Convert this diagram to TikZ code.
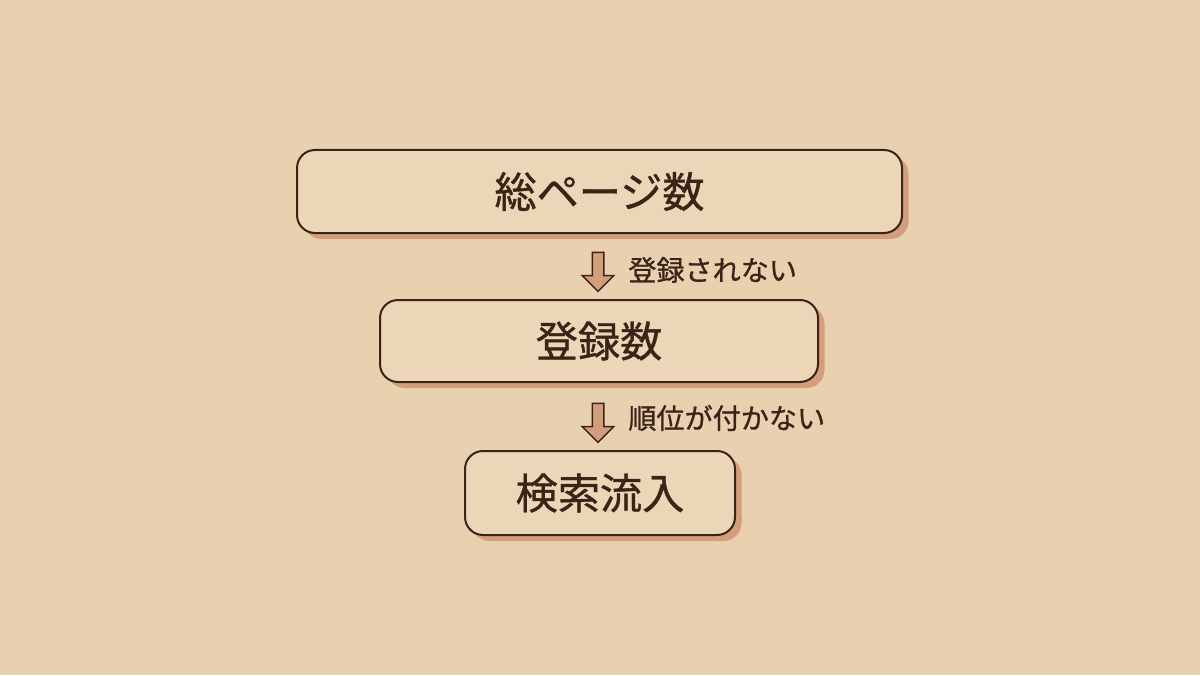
\documentclass[tikz,border=0pt]{standalone}
\usepackage{fontspec}
\setmainfont{Noto Sans CJK JP}
\newfontfamily\inkfont{Noto Sans CJK JP}[FakeBold=0.9]
\usetikzlibrary{shadows,shapes.arrows}
\definecolor{paper}{RGB}{233,209,176}
\definecolor{boxfill}{RGB}{236,214,184}
\definecolor{ink}{RGB}{58,36,24}
\definecolor{boxshade}{RGB}{210,158,124}
\tikzset{
  stagebox/.style={draw=ink, line width=0.04cm, fill=boxfill, rounded corners=0.36cm,
    text=ink, font=\inkfont\fontsize{24}{28}\selectfont, inner sep=0pt,
    drop shadow={fill=boxshade, opacity=1, shadow xshift=0.13cm, shadow yshift=-0.12cm}},
  dropnote/.style={anchor=west, text=ink, font=\inkfont\fontsize{16}{19}\selectfont, inner sep=0pt},
  downarrow/.style={single arrow, draw=ink, line width=0.03cm, fill=boxshade, rotate=-90,
    minimum height=0.78cm, minimum width=0.60cm, inner sep=0.1cm,
    single arrow head extend=0.2cm, single arrow head indent=0cm}
}
\begin{document}
\begin{tikzpicture}
% \clip (0,0) rectangle (24.000000,13.500000);
\fill [paper] (0,0) rectangle (24.000000,13.500000);
\useasboundingbox (0,0) rectangle (24.000000,13.500000);

% Drawing box total
\node [stagebox, minimum width=12.10cm, minimum height=1.66cm] (total) at (11.990000,9.670000) {総ページ数};%

% Drawing box registered
\node [stagebox, minimum width=8.76cm, minimum height=1.64cm] (registered) at (11.980000,6.680000) {登録数};%

% Drawing box traffic
\node [stagebox, minimum width=5.40cm, minimum height=1.68cm] (traffic) at (12.000000,3.640000) {検索流入};%

% Drawing arrow total registered
\node [downarrow] (drop1) at (11.960000,8.120000) {};%
\node [dropnote] (note1) at (12.560000,8.100000) {登録されない};%

% Drawing arrow registered traffic
\node [downarrow] (drop2) at (11.960000,5.100000) {};%
\node [dropnote] (note2) at (12.560000,5.140000) {順位が付かない};%
\end{tikzpicture}
\end{document}
